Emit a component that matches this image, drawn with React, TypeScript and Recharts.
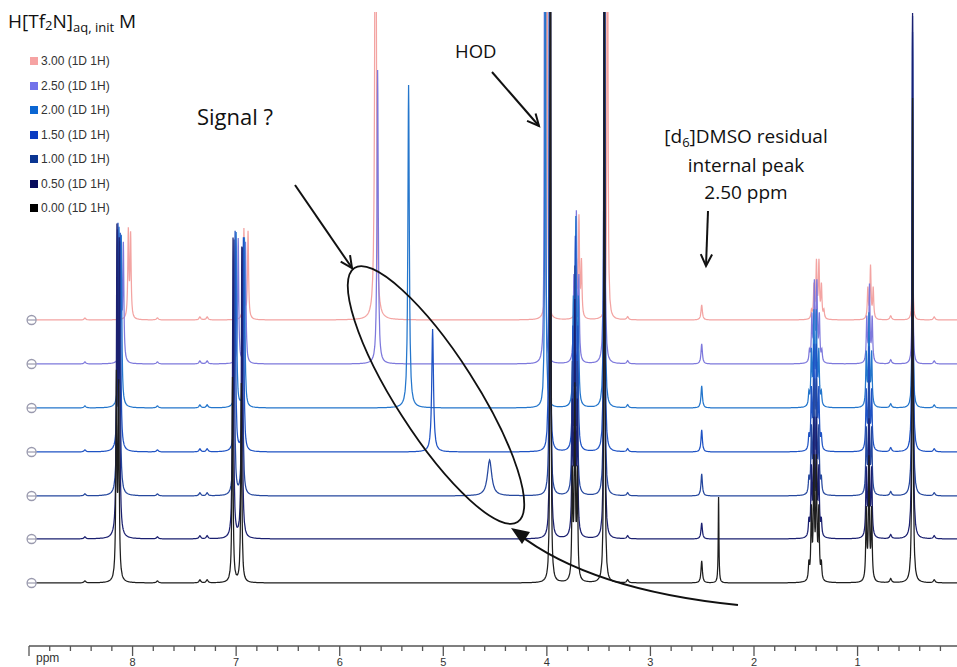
import React from 'react';
import { LineChart, Line, XAxis, YAxis, ReferenceDot } from 'recharts';

// one entry per spectrum, from bottom (0.00 M) to top (3.00 M)
const TRACES = ['0.00', '0.50', '1.00', '1.50', '2.00', '2.50', '3.00'];
const COLORS = ['#1e1e1e', '#1b2070', '#26489e', '#1f53c4', '#2476cc', '#7e79dc', '#f3a4a2'];
const SWATCH = ['#000000', '#070b5c', '#0a3592', '#0a3cc2', '#0b66d2', '#7272ea', '#f6a3a3'];
const OFFSET = [63, 107, 150, 194, 238, 282, 326];

// aromatic doublet ~8.1 ppm
const AR1_PPM = [8.145, 8.14, 8.135, 8.13, 8.12, 8.1, 8.03];
const AR1_H = [200, 296, 250, 215, 170, 120, 87];
// aromatic pair ~7.0 ppm
const AR2A_PPM = [7.035, 7.03, 7.02, 7.01, 7.0, 6.98, 6.925];
const AR2B_PPM = [6.95, 6.945, 6.94, 6.93, 6.92, 6.91, 6.885];
const AR2_H = [205, 300, 255, 220, 175, 125, 90];
// the moving acid signal ("Signal ?")
const SIG_PPM = [0, 0, 4.553, 5.103, 5.335, 5.634, 5.654];
const SIG_H = [0, 0, 36, 123, 323, 294, 700];
const SIG_W = [0, 0, 0.025, 0.01, 0.008, 0.007, 0.007];
// HOD and the big singlet next to it
const HOD_PPM = [3.965, 3.965, 3.97, 3.975, 4.015, 4.02, 4.0];
const HOD_H = [800, 800, 800, 800, 800, 800, 800];
const S345_PPM = [3.445, 3.445, 3.445, 3.445, 3.445, 3.445, 3.415];
const S345_H = [800, 800, 800, 800, 800, 800, 800];
// triplet ~3.73 ppm
const T373_PPM = [3.73, 3.73, 3.73, 3.725, 3.72, 3.715, 3.69];
const T373_H = [209, 250, 240, 225, 200, 160, 110];
// DMSO residual 2.50 ppm and the 2.35 ppm line of the 0.00 sample
const DMSO_H = [22, 16, 22, 22, 22, 20, 15];
const S235_H = [86, 0, 0, 0, 0, 0, 0];
// multiplets ~1.41 and ~0.89 ppm
const M141_PPM = [1.41, 1.41, 1.41, 1.41, 1.41, 1.405, 1.385];
const M141_H = [137, 130, 125, 115, 105, 90, 65];
const T089_PPM = [0.89, 0.89, 0.89, 0.89, 0.89, 0.885, 0.875];
const T089_H = [127, 120, 115, 105, 95, 80, 55];
// singlet 0.47 ppm
const S047_H = [485, 526, 480, 420, 226, 160, 93];
// small baseline bumps
const MINOR_PPM = [8.46, 7.76, 7.35, 7.28, 3.22, 0.68, 0.26];
const MINOR_H = [2, 2, 3, 3, 3, 4, 3];

const TICKS = [9.0, 8.8, 8.6, 8.4, 8.2, 8.0, 7.8, 7.6, 7.4, 7.2, 7.0, 6.8, 6.6, 6.4, 6.2, 6.0, 5.8, 5.6, 5.4, 5.2, 5.0,
  4.8, 4.6, 4.4, 4.2, 4.0, 3.8, 3.6, 3.4, 3.2, 3.0, 2.8, 2.6, 2.4, 2.2, 2.0, 1.8, 1.6, 1.4, 1.2, 1.0, 0.8, 0.6, 0.4, 0.2];

type Peak = { c: number; h: number; w: number };

function peaksFor(i: number): Peak[] {
  const p: Peak[] = [];
  const add = (c: number, h: number, w: number) => { if (h > 0) p.push({ c, h, w }); };
  add(AR1_PPM[i] + 0.011, AR1_H[i], 0.006);
  add(AR1_PPM[i] - 0.011, AR1_H[i] * 0.95, 0.006);
  add(AR2A_PPM[i], AR2_H[i], 0.006);
  add(AR2B_PPM[i], AR2_H[i] * 0.97, 0.006);
  add(SIG_PPM[i], SIG_H[i], SIG_W[i]);
  add(HOD_PPM[i], HOD_H[i], 0.004);
  add(S345_PPM[i], S345_H[i], 0.004);
  // triplet
  add(T373_PPM[i] + 0.024, T373_H[i] * 0.5, 0.006);
  add(T373_PPM[i], T373_H[i] * 0.9, 0.006);
  add(T373_PPM[i] - 0.024, T373_H[i] * 0.5, 0.006);
  add(2.505, DMSO_H[i], 0.008);
  add(2.342, S235_H[i], 0.004);
  // sextet
  add(M141_PPM[i] + 0.06, M141_H[i] * 0.12, 0.006);
  add(M141_PPM[i] + 0.036, M141_H[i] * 0.5, 0.006);
  add(M141_PPM[i] + 0.012, M141_H[i] * 0.85, 0.006);
  add(M141_PPM[i] - 0.012, M141_H[i] * 0.85, 0.006);
  add(M141_PPM[i] - 0.036, M141_H[i] * 0.5, 0.006);
  add(M141_PPM[i] - 0.06, M141_H[i] * 0.12, 0.006);
  // triplet
  add(T089_PPM[i] + 0.026, T089_H[i] * 0.55, 0.006);
  add(T089_PPM[i], T089_H[i] * 0.95, 0.006);
  add(T089_PPM[i] - 0.026, T089_H[i] * 0.55, 0.006);
  add(0.469, S047_H[i], 0.005);
  MINOR_PPM.forEach((c, k) => add(c, MINOR_H[k], 0.01));
  return p;
}

const STEPS = [-40, -20, -10, -6, -4, -3, -2, -1.5, -1, -0.6, -0.3, 0, 0.3, 0.6, 1, 1.5, 2, 3, 4, 6, 10, 20, 40];

function buildSeries(i: number) {
  const peaks = peaksFor(i);
  const xs: number[] = [];
  for (let x = 0.04; x <= 8.93; x += 0.01) xs.push(x);
  xs.push(8.93);
  peaks.forEach((pk) => STEPS.forEach((s) => xs.push(pk.c + s * pk.w)));
  const uniq = Array.from(new Set(xs.filter((x) => x >= 0.04 && x <= 8.93).map((x) => Math.round(x * 100000) / 100000)));
  uniq.sort((a, b) => a - b);
  return uniq.map((x) => {
    let y = OFFSET[i];
    peaks.forEach((pk) => { y += (pk.h * pk.w * pk.w) / ((x - pk.c) * (x - pk.c) + pk.w * pk.w); });
    return { ppm: x, y };
  });
}

const SERIES = TRACES.map((_, i) => buildSeries(i));

const renderTick = (props: any) => {
  const { x, y, payload } = props;
  const v = payload.value as number;
  const major = Math.abs(v - Math.round(v)) < 1e-6;
  return (
    <g>
      <line x1={x} x2={x} y1={y} y2={y + (major ? 10 : 5)} stroke="#555" strokeWidth={1.3} />
      {major && v < 8.99 && (
        <text x={x} y={y + 20} textAnchor="middle" fontSize={11} fill="#333" fontFamily="'Liberation Sans', Arial, sans-serif">
          {v}
        </text>
      )}
    </g>
  );
};

const Marker = (props: any) => {
  const { cx, cy } = props;
  return (
    <g>
      <circle cx={cx} cy={cy} r={4.5} fill="#fff" stroke="#9a9aae" strokeWidth={1.3} />
      <line x1={cx - 4.5} x2={cx + 4.5} y1={cy} y2={cy} stroke="#9a9aae" strokeWidth={1.2} />
    </g>
  );
};

function Arrow({ x1, y1, x2, y2, size = 13 }: { x1: number; y1: number; x2: number; y2: number; size?: number }) {
  const a = Math.atan2(y2 - y1, x2 - x1);
  const h1 = `${x2 - size * Math.cos(a - 0.45)},${y2 - size * Math.sin(a - 0.45)}`;
  const h2 = `${x2 - size * Math.cos(a + 0.45)},${y2 - size * Math.sin(a + 0.45)}`;
  return (
    <g stroke="#111" strokeWidth={2} fill="none">
      <line x1={x1} y1={y1} x2={x2} y2={y2} />
      <polyline points={`${h1} ${x2},${y2} ${h2}`} />
    </g>
  );
}

const ANNOT_FONT = "'Open Sans', 'DejaVu Sans', sans-serif";
const LEGEND_FONT = "'Liberation Sans', Arial, sans-serif";

export default function App() {
  const legendRows = TRACES.map((_, i) => i).reverse();
  return (
    <div style={{ position: 'absolute', left: 0, top: 0, width: 957, height: 667, background: '#fff', overflow: 'hidden' }}>
      <LineChart width={957} height={667} margin={{ top: 12, right: 0, bottom: 0, left: 29 }}>
        <XAxis
          dataKey="ppm"
          type="number"
          domain={[0.04, 9.0]}
          reversed
          allowDataOverflow
          ticks={TICKS}
          interval={0}
          height={21}
          tickSize={0}
          tickMargin={0}
          tickLine={false}
          tick={renderTick}
          axisLine={{ stroke: '#555', strokeWidth: 1.5 }}
        />
        <YAxis hide type="number" domain={[0, 634]} allowDataOverflow />
        {TRACES.map((t, i) => (
          <ReferenceDot key={'m' + t} x={8.975} y={OFFSET[i]} r={4.5} shape={Marker} />
        ))}
        {TRACES.map((t, i) => i).reverse().map((i) => (
          <Line
            key={TRACES[i]}
            data={SERIES[i]}
            dataKey="y"
            type="linear"
            stroke={COLORS[i]}
            strokeWidth={1.25}
            dot={false}
            activeDot={false}
            isAnimationActive={false}
          />
        ))}
      </LineChart>

      <svg width={957} height={667} style={{ position: 'absolute', left: 0, top: 0, pointerEvents: 'none' }}>
        <text x={36} y={662} fontSize={12} fill="#333" fontFamily={LEGEND_FONT}>ppm</text>
        <ellipse cx={436} cy={395} rx={151} ry={40} transform="rotate(57.3 436 395)" fill="none" stroke="#111" strokeWidth={1.8} />
        <Arrow x1={295} y1={185} x2={352} y2={268} />
        <Arrow x1={492} y1={72} x2={539} y2={126} />
        <Arrow x1={708} y1={211} x2={706} y2={266} />
        <path d="M738,605 Q590,590 517,533" fill="none" stroke="#111" strokeWidth={2.2} />
        <polygon points="511,528 530,532 522,544" fill="#111" />
        <text x={197} y={125} fontSize={22} fill="#111" fontFamily={ANNOT_FONT}>Signal ?</text>
        <text x={455} y={58} fontSize={18.5} fill="#111" fontFamily={ANNOT_FONT}>HOD</text>
        <text x={746} y={143} fontSize={19} fill="#111" fontFamily={ANNOT_FONT} textAnchor="middle">
          [d<tspan fontSize={13} dy={4}>6</tspan><tspan dy={-4}>]DMSO residual</tspan>
        </text>
        <text x={746} y={172} fontSize={19} fill="#111" fontFamily={ANNOT_FONT} textAnchor="middle">internal peak</text>
        <text x={746} y={199} fontSize={19} fill="#111" fontFamily={ANNOT_FONT} textAnchor="middle">2.50 ppm</text>
      </svg>

      <div style={{ position: 'absolute', left: 8, top: 8, fontFamily: ANNOT_FONT, fontSize: 19, color: '#111', whiteSpace: 'nowrap' }}>
        H[Tf<span style={{ fontSize: 13, position: 'relative', top: 2 }}>2</span>N]
        <span style={{ fontSize: 13, position: 'relative', top: 4 }}>aq, init</span> M
      </div>
      {legendRows.map((i, r) => (
        <div key={'lg' + i} style={{ position: 'absolute', left: 30, top: 54 + r * 24.5, height: 14, display: 'flex', alignItems: 'center', fontFamily: LEGEND_FONT, fontSize: 12, color: '#333' }}>
          <span style={{ width: 8, height: 8, background: SWATCH[i], marginRight: 3, display: 'inline-block' }} />
          {TRACES[i]} (1D 1H)
        </div>
      ))}
    </div>
  );
}
